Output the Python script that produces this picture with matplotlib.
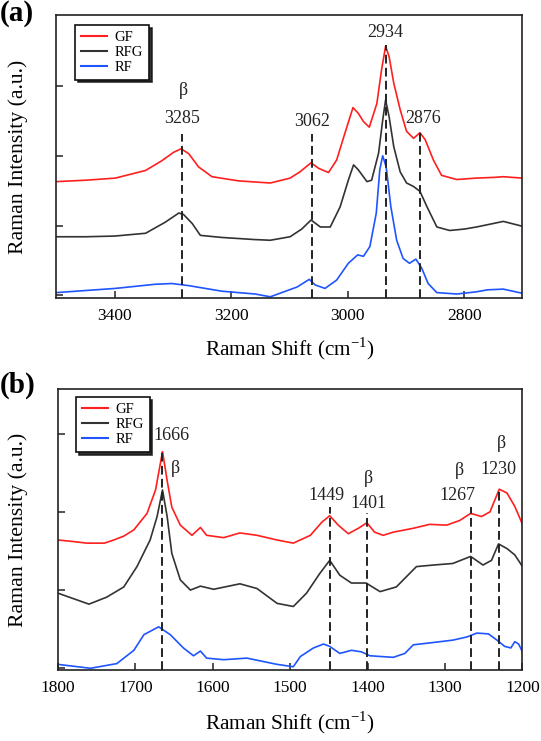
import matplotlib
matplotlib.use("Agg")
import matplotlib.pyplot as plt

plt.rcParams['font.family'] = ['Liberation Serif', 'DejaVu Serif']
plt.rcParams['mathtext.fontset'] = 'custom'
plt.rcParams['mathtext.rm'] = 'Liberation Serif'

# ---------------- Panel (a) data ----------------
a_gf_x = [3500, 3450, 3399, 3347, 3319, 3299, 3286, 3273, 3256, 3233, 3187, 3133, 3099, 3082,
          3063, 3050, 3033, 3019, 3005, 2991, 2982, 2973, 2963, 2950, 2942, 2935, 2929, 2921,
          2910, 2899, 2887, 2876, 2867, 2853, 2839, 2813, 2780, 2750, 2733, 2700]
a_gf_y = [1.63, 1.65, 1.68, 1.79, 1.93, 2.05, 2.10, 2.03, 1.84, 1.70, 1.64, 1.61, 1.68, 1.77,
          1.90, 1.82, 1.76, 1.94, 2.32, 2.69, 2.61, 2.49, 2.41, 2.75, 3.23, 3.57, 3.42, 3.04,
          2.66, 2.35, 2.25, 2.33, 2.23, 1.94, 1.72, 1.66, 1.68, 1.69, 1.70, 1.68]

a_rfg_x = [3500, 3450, 3400, 3347, 3313, 3290, 3282, 3267, 3253, 3216, 3160, 3133, 3099, 3079,
           3063, 3047, 3030, 3013, 2999, 2990, 2982, 2967, 2959, 2947, 2940, 2935, 2929, 2921,
           2910, 2899, 2887, 2876, 2864, 2847, 2825, 2800, 2779, 2750, 2733, 2700]
a_rfg_y = [0.84, 0.84, 0.85, 0.89, 1.05, 1.18, 1.16, 1.03, 0.86, 0.83, 0.80, 0.79, 0.84, 0.95,
           1.08, 0.98, 0.98, 1.27, 1.65, 1.87, 1.80, 1.63, 1.65, 2.04, 2.51, 2.80, 2.56, 2.13,
           1.77, 1.61, 1.56, 1.49, 1.27, 0.98, 0.93, 0.95, 0.98, 1.03, 1.06, 0.99]

a_rf_x = [3500, 3450, 3399, 3330, 3302, 3273, 3216, 3159, 3133, 3087, 3066, 3056, 3039, 3019,
          2999, 2983, 2973, 2962, 2951, 2945, 2940, 2934, 2926, 2916, 2905, 2894, 2883, 2873,
          2862, 2847, 2813, 2780, 2760, 2733, 2700]
a_rf_y = [0.04, 0.07, 0.10, 0.16, 0.17, 0.14, 0.06, 0.02, -0.02, 0.12, 0.23, 0.15, 0.10, 0.22,
          0.46, 0.58, 0.56, 0.70, 1.18, 1.80, 2.00, 1.84, 1.27, 0.79, 0.53, 0.46, 0.52, 0.39,
          0.17, 0.04, 0.02, 0.05, 0.08, 0.09, 0.03]

a_peaks = [3285, 3062, 2934, 2876]
a_peak_tops = [2.31, 2.31, 3.59, 2.36]
a_labels = ["3285", "3062", "2934", "2876"]
a_label_x = [3285, 3062, 2935, 2870]
a_label_y = [2.54, 2.49, 3.76, 2.53]
a_beta_x = [3282]
a_beta_y = [2.94]

# ---------------- Panel (b) data ----------------
b_gf_x = [1800, 1780, 1763, 1740, 1728, 1715, 1702, 1685, 1674, 1665, 1659, 1653, 1642, 1627,
          1616, 1608, 1586, 1565, 1543, 1517, 1496, 1474, 1459, 1449, 1438, 1425, 1412, 1401,
          1391, 1380, 1367, 1341, 1320, 1298, 1281, 1267, 1253, 1242, 1230, 1220, 1210, 1200]
b_gf_y = [1.64, 1.62, 1.60, 1.60, 1.64, 1.69, 1.77, 1.98, 2.28, 2.77, 2.40, 2.06, 1.83, 1.70,
          1.80, 1.70, 1.67, 1.73, 1.70, 1.64, 1.60, 1.70, 1.87, 1.95, 1.83, 1.72, 1.79, 1.86,
          1.74, 1.70, 1.74, 1.79, 1.84, 1.83, 1.89, 1.98, 1.94, 2.00, 2.29, 2.24, 2.07, 1.84]

b_rfg_x = [1800, 1780, 1760, 1737, 1715, 1698, 1681, 1672, 1665, 1659, 1653, 1642, 1629, 1616,
           1599, 1565, 1543, 1517, 1496, 1479, 1462, 1449, 1436, 1421, 1402, 1384, 1363, 1337,
           1315, 1290, 1267, 1251, 1240, 1231, 1220, 1210, 1200]
b_rfg_y = [0.96, 0.89, 0.82, 0.91, 1.04, 1.30, 1.64, 1.94, 2.28, 1.94, 1.47, 1.13, 1.00, 1.05,
           1.01, 1.08, 1.02, 0.83, 0.79, 0.96, 1.21, 1.38, 1.19, 1.09, 1.09, 0.98, 1.04, 1.30,
           1.32, 1.34, 1.43, 1.32, 1.38, 1.59, 1.53, 1.45, 1.30]

b_rf_x = [1800, 1758, 1724, 1702, 1689, 1670, 1655, 1638, 1625, 1616, 1608, 1586, 1556, 1517,
          1496, 1487, 1470, 1457, 1449, 1436, 1421, 1408, 1397, 1367, 1352, 1341, 1315, 1290,
          1272, 1259, 1244, 1233, 1223, 1215, 1210, 1205, 1200]
b_rf_y = [0.05, 0.00, 0.06, 0.23, 0.43, 0.53, 0.43, 0.26, 0.16, 0.22, 0.13, 0.11, 0.13, 0.05,
          0.02, 0.15, 0.26, 0.31, 0.28, 0.19, 0.23, 0.21, 0.16, 0.14, 0.19, 0.30, 0.33, 0.36,
          0.40, 0.45, 0.44, 0.36, 0.28, 0.26, 0.34, 0.31, 0.21]

b_peaks = [1666, 1449, 1401, 1267, 1230]
b_peak_tops = [2.77, 2.06, 1.98, 2.06, 2.31]
b_labels = ["1666", "1449", "1401", "1267", "1230"]
b_label_x = [1654, 1453, 1399, 1284, 1231]
b_label_y = [2.98, 2.21, 2.11, 2.21, 2.54]
b_beta_x = [1648, 1399, 1281, 1227]
b_beta_y = [2.55, 2.43, 2.53, 2.88]

series_names = ["GF", "RFG", "RF"]
colors = ["#ff1f1f", "#333333", "#1f55ff"]

fig = plt.figure(figsize=(5.41, 7.41), dpi=100)
ax_a = fig.add_axes([0.1044, 0.5972, 0.8614, 0.3826])
ax_b = fig.add_axes([0.1072, 0.0958, 0.8586, 0.3792])


def draw_panel(ax, xs, ys, peaks, tops, labels, lx, ly, bx, by, xlim, ylim, xticks,
               ylabel_x, xlabel_y, leg_anchor):
    for x, y, c, n in zip(xs, ys, colors, series_names):
        ax.plot(x, y, color=c, lw=1.2, label=n)
    for p, t in zip(peaks, tops):
        ax.plot([p, p], [ylim[0], t], color='#222222', lw=1.4, ls=(0, (4.5, 2.2)))
    for t, x, y in zip(labels, lx, ly):
        ax.text(x, y, t, ha='center', va='center', fontsize=13, color='#222222')
    for x, y in zip(bx, by):
        ax.text(x, y, "β", ha='center', va='center', fontsize=13, color='#222222')
    ax.set_xlim(*xlim)
    ax.set_ylim(*ylim)
    ax.set_xticks(xticks)
    ax.set_yticks([0, 1, 2, 3])
    ax.set_yticklabels([])
    ax.tick_params(axis='both', direction='in', length=5, width=1.1, color='#222222',
                   labelsize=12.5, pad=7)
    ax.tick_params(axis='x', top=False)
    ax.tick_params(axis='y', right=False)
    for s in ax.spines.values():
        s.set_linewidth(1.2)
        s.set_color('#222222')
    ax.set_ylabel("Raman Intensity (a.u.)", fontsize=15.7)
    ax.set_xlabel(r"Raman Shift (cm$^{-1}$)", fontsize=15.3)
    ax.yaxis.set_label_coords(ylabel_x, 0.5)
    ax.xaxis.set_label_coords(0.5, xlabel_y)
    leg = ax.legend(loc='upper left', bbox_to_anchor=leg_anchor, borderaxespad=0,
                    fontsize=10.5, frameon=True, fancybox=False,
                    shadow={'color': '#111111', 'alpha': 0.85},
                    handlelength=1.8, handletextpad=0.5, labelspacing=0.12,
                    borderpad=0.4)
    leg.get_frame().set_edgecolor('#111111')
    leg.get_frame().set_linewidth(1.2)
    for line in leg.get_lines():
        line.set_linewidth(1.5)


draw_panel(ax_a, [a_gf_x, a_rfg_x, a_rf_x], [a_gf_y, a_rfg_y, a_rf_y],
           a_peaks, a_peak_tops, a_labels, a_label_x, a_label_y, a_beta_x, a_beta_y,
           (3500, 2700), (-0.044, 4.017), [3400, 3200, 3000, 2800], -0.061, -0.13,
           (0.0406, 0.965))
draw_panel(ax_b, [b_gf_x, b_rfg_x, b_rf_x], [b_gf_y, b_rfg_y, b_rf_y],
           b_peaks, b_peak_tops, b_labels, b_label_x, b_label_y, b_beta_x, b_beta_y,
           (1800, 1200), (-0.022, 3.57), [1800, 1700, 1600, 1500, 1400, 1300, 1200], -0.065, -0.14,
           (0.0388, 0.9715))

fig.text(0.0, 1.0, "(a)", ha='left', va='top', fontsize=21, fontweight='bold')
fig.text(0.0, 0.499, "(b)", ha='left', va='top', fontsize=21, fontweight='bold')

fig.savefig("out.png", dpi=100)
